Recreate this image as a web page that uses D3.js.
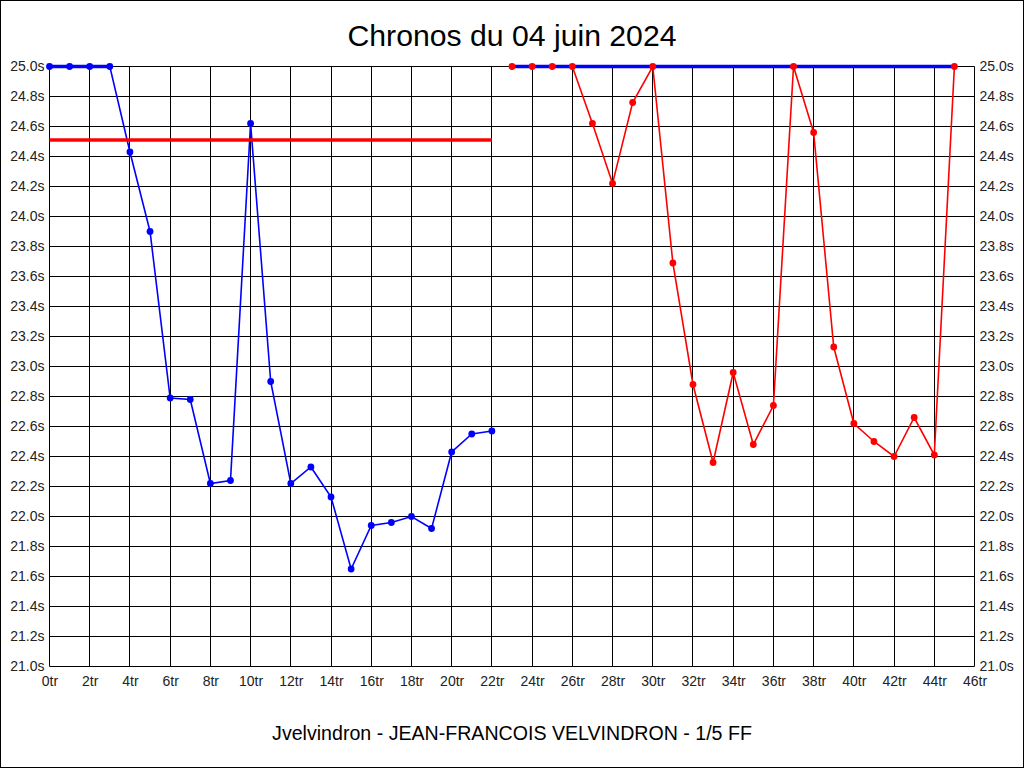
<!DOCTYPE html>
<html>
<head>
<meta charset="utf-8">
<script src="https://cdn.jsdelivr.net/npm/d3@7"></script>
<style>
  html, body { margin: 0; padding: 0; background: #fff; }
  svg { display: block; }
  text { font-family: "Liberation Sans", Arial, sans-serif; }
</style>
</head>
<body>
<svg id="chart" width="1024" height="768"></svg>
<script>
// ---- data ----
const title = "Chronos du 04 juin 2024";
const footer = "Jvelvindron - JEAN-FRANCOIS VELVINDRON - 1/5 FF";

const lapsA = [0,1,2,3,4,5,6,7,8,9,10,11,12,13,14,15,16,17,18,19,20,21,22];
const timesA = [25.0,25.0,25.0,25.0,24.43,23.90,22.79,22.78,22.22,22.24,24.62,22.90,22.22,22.33,22.13,21.65,21.94,21.96,22.00,21.92,22.43,22.55,22.57];

const lapsB = [23,24,25,26,27,28,29,30,31,32,33,34,35,36,37,38,39,40,41,42,43,44,45];
const timesB = [25.0,25.0,25.0,25.0,24.62,24.22,24.76,25.0,23.69,22.88,22.36,22.96,22.48,22.74,25.0,24.56,23.13,22.62,22.50,22.40,22.66,22.41,25.0];

const refLineA = [{lap: 0, t: 24.51}, {lap: 22, t: 24.51}];
const refLineB = [{lap: 23, t: 25.0}, {lap: 45, t: 25.0}];

const xTicks = d3.range(0, 47, 2);
const yTicks = d3.range(0, 21).map(i => +(21 + i * 0.2).toFixed(1));

// ---- layout ----
const svg = d3.select("#chart");
const W = 1024, H = 768;
const x = d3.scaleLinear().domain([0, 46]).range([49.5, 974.5]);
const y = d3.scaleLinear().domain([21, 25]).range([666.5, 66.5]);

svg.append("rect").attr("x", 0).attr("y", 0).attr("width", W).attr("height", H).attr("fill", "#fff");

// grid
const g = svg.append("g");
g.selectAll("line.v").data(xTicks).join("line")
  .attr("x1", d => Math.round(x(d) - 0.5) + 0.5).attr("x2", d => Math.round(x(d) - 0.5) + 0.5)
  .attr("y1", y(25)).attr("y2", y(21))
  .attr("stroke", "#000").attr("stroke-width", 1);
g.selectAll("line.h").data(yTicks).join("line")
  .attr("y1", d => Math.round(y(d) - 0.5) + 0.5).attr("y2", d => Math.round(y(d) - 0.5) + 0.5)
  .attr("x1", x(0)).attr("x2", x(46))
  .attr("stroke", "#000").attr("stroke-width", 1);

// axes labels
const leftAxis = d3.axisLeft(y).tickValues(yTicks).tickSize(0).tickPadding(5).tickFormat(d => d.toFixed(1) + "s");
const rightAxis = d3.axisRight(y).tickValues(yTicks).tickSize(0).tickPadding(5).tickFormat(d => d.toFixed(1) + "s");
const bottomAxis = d3.axisBottom(x).tickValues(xTicks).tickSize(0).tickPadding(10).tickFormat(d => d + "tr");

function styleAxis(sel) {
  sel.select(".domain").remove();
  sel.selectAll("text").attr("font-size", 14).attr("fill", "#222")
    .attr("font-family", "'Liberation Sans', Arial, sans-serif");
}
svg.append("g").attr("transform", `translate(${x(0)},0)`).call(leftAxis).call(styleAxis);
svg.append("g").attr("transform", `translate(${x(46)},0)`).call(rightAxis).call(styleAxis);
svg.append("g").attr("transform", `translate(0,${y(21)})`).call(bottomAxis).call(styleAxis);

const line = d3.line().x(d => x(d.lap)).y(d => y(d.t));
const ptsA = lapsA.map((l, i) => ({lap: l, t: timesA[i]}));
const ptsB = lapsB.map((l, i) => ({lap: l, t: timesB[i]}));

// series lines
svg.append("path").datum(ptsA).attr("d", line).attr("fill", "none")
  .attr("stroke", "#0000ff").attr("stroke-width", 1.6);
svg.append("path").datum(ptsB).attr("d", line).attr("fill", "none")
  .attr("stroke", "#ff0000").attr("stroke-width", 1.6);

// reference lines
svg.append("path").datum(refLineA).attr("d", line).attr("fill", "none")
  .attr("stroke", "#ff0000").attr("stroke-width", 3.5);
svg.append("path").datum(refLineB).attr("d", line).attr("fill", "none")
  .attr("stroke", "#0000ff").attr("stroke-width", 3.5);
// thick top segment on first series where it sits on 25.0
svg.append("path").datum(ptsA.filter(d => d.t >= 25)).attr("d", line).attr("fill", "none")
  .attr("stroke", "#0000ff").attr("stroke-width", 3.5);

// dots
svg.append("g").selectAll("circle").data(ptsA).join("circle")
  .attr("cx", d => x(d.lap)).attr("cy", d => y(d.t)).attr("r", 3.4).attr("fill", "#0000ff");
svg.append("g").selectAll("circle").data(ptsB).join("circle")
  .attr("cx", d => x(d.lap)).attr("cy", d => y(d.t)).attr("r", 3.4).attr("fill", "#ff0000");

// title & footer
svg.append("text").attr("x", 512).attr("y", 46).attr("text-anchor", "middle")
  .attr("font-size", 30.2).attr("fill", "#000").text(title);
svg.append("text").attr("x", 512).attr("y", 740).attr("text-anchor", "middle")
  .attr("font-size", 19.6).attr("fill", "#000").text(footer);

// frame
svg.append("rect").attr("x", 0.5).attr("y", 0.5).attr("width", W - 1).attr("height", H - 1)
  .attr("fill", "none").attr("stroke", "#000").attr("stroke-width", 1);
</script>
</body>
</html>
